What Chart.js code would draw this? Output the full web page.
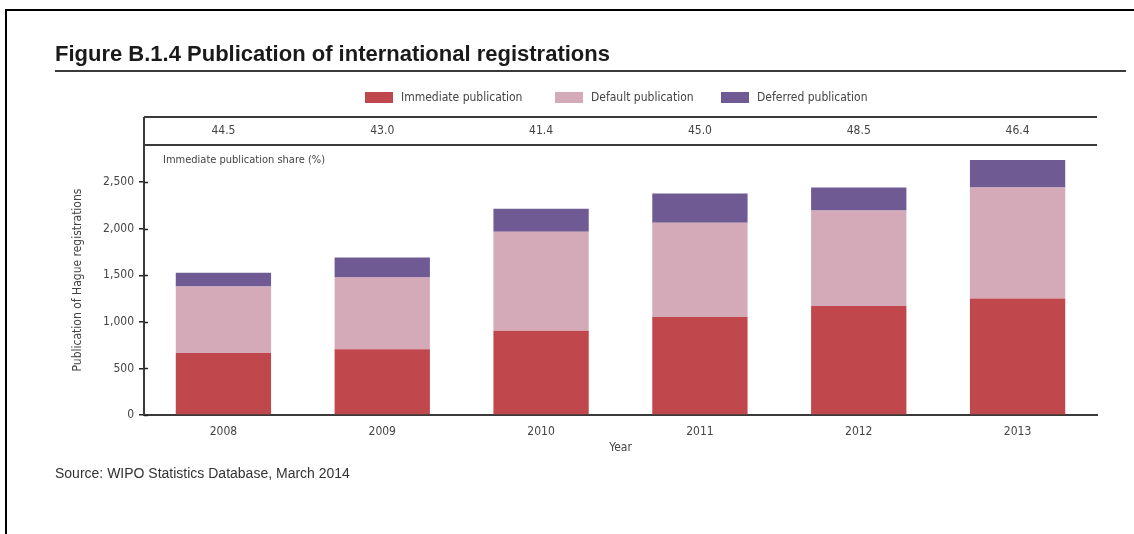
<!DOCTYPE html>
<html>
<head>
<meta charset="utf-8">
<script src="https://cdn.jsdelivr.net/npm/chart.js@4"></script>
<style>
  html, body { margin: 0; padding: 0; background: #fff; }
  #wrap { width: 1134px; height: 534px; position: relative; }
</style>
</head>
<body>
<div id="wrap"><canvas id="chart" width="1134" height="534"></canvas></div>
<script>
const years = ['2008', '2009', '2010', '2011', '2012', '2013'];
const immediate = [665, 706, 905, 1052, 1170, 1252];
const defaultPub = [714, 771, 1064, 1013, 1027, 1191];
const deferred = [149, 214, 246, 314, 246, 297];
const shares = ['44.5', '43.0', '41.4', '45.0', '48.5', '46.4'];
const yTicks = [0, 500, 1000, 1500, 2000, 2500];

const narrow = '"Liberation Sans Narrow", "DejaVu Sans Condensed", sans-serif';
const textCol = '#444';
const lineCol = '#3a3a3a';

const seriesInfo = [
    { label: 'Immediate publication', data: immediate, color: '#c0474b' },
    { label: 'Default publication', data: defaultPub, color: '#d4a9b8' },
    { label: 'Deferred publication', data: deferred, color: '#6f5a93' }
];

// frame, title, legend, share row, source
const extras = {
    id: 'extras',
    afterDraw(chart) {
        const ctx = chart.ctx;
        const area = chart.chartArea;
        const xs = chart.scales.x;
        const ys = chart.scales.y;
        ctx.save();

        // page frame
        ctx.strokeStyle = '#000';
        ctx.lineWidth = 2;
        ctx.beginPath();
        ctx.moveTo(6, 540);
        ctx.lineTo(6, 10);
        ctx.lineTo(1134, 10);
        ctx.stroke();

        // title
        ctx.fillStyle = '#1a1a1a';
        ctx.font = 'bold 22px "Liberation Sans", Arial, sans-serif';
        ctx.textBaseline = 'alphabetic';
        ctx.textAlign = 'left';
        ctx.fillText('Figure B.1.4 Publication of international registrations', 55, 61);
        ctx.strokeStyle = lineCol;
        ctx.lineWidth = 2;
        ctx.beginPath();
        ctx.moveTo(55, 71);
        ctx.lineTo(1126, 71);
        ctx.stroke();

        // legend
        ctx.font = '12px ' + narrow;
        ctx.textBaseline = 'middle';
        const legendX = [365, 555, 721];
        seriesInfo.forEach((s, i) => {
            ctx.fillStyle = s.color;
            ctx.fillRect(legendX[i], 92, 28, 11);
            ctx.fillStyle = textCol;
            ctx.fillText(s.label, legendX[i] + 36, 98);
        });

        // share row
        ctx.strokeStyle = lineCol;
        ctx.lineWidth = 2;
        ctx.beginPath();
        ctx.moveTo(area.left, 117);
        ctx.lineTo(area.right, 117);
        ctx.moveTo(area.left, area.top);
        ctx.lineTo(area.right, area.top);
        ctx.moveTo(area.left, 117);
        ctx.lineTo(area.left, area.top);
        ctx.stroke();
        ctx.fillStyle = textCol;
        ctx.textAlign = 'center';
        shares.forEach((v, i) => {
            ctx.fillText(v, xs.getPixelForValue(i), 131);
        });
        ctx.textAlign = 'left';
        ctx.font = '11px ' + narrow;
        ctx.fillText('Immediate publication share (%)', 163, 160);

        // inner half of the y tick marks
        ctx.strokeStyle = '#222';
        ctx.lineWidth = 1.5;
        ctx.beginPath();
        ys.ticks.forEach(t => {
            const py = Math.round(ys.getPixelForValue(t.value)) + 0.5;
            ctx.moveTo(area.left, py);
            ctx.lineTo(area.left + 4, py);
        });
        ctx.stroke();

        // source
        ctx.fillStyle = '#333';
        ctx.font = '14px "Liberation Sans", Arial, sans-serif';
        ctx.fillText('Source: WIPO Statistics Database, March 2014', 55, 474);
        ctx.restore();
    }
};

new Chart(document.getElementById('chart'), {
    type: 'bar',
    data: {
        labels: years,
        datasets: seriesInfo.map(s => ({
            label: s.label,
            data: s.data,
            backgroundColor: s.color,
            borderWidth: 0,
            barPercentage: 0.6,
            categoryPercentage: 1
        }))
    },
    options: {
        responsive: false,
        animation: false,
        layout: { padding: { left: 71, right: 37, top: 145, bottom: 79 } },
        plugins: {
            legend: { display: false },
            tooltip: { enabled: false }
        },
        scales: {
            x: {
                stacked: true,
                grid: { display: false, drawTicks: false },
                border: { color: lineCol, width: 2 },
                ticks: { color: textCol, font: { family: narrow, size: 12 }, padding: 10 },
                title: { display: true, text: 'Year', color: textCol, font: { family: narrow, size: 12 }, padding: 0 },
                afterFit(s) { s.height = 40; }
            },
            y: {
                stacked: true,
                min: 0,
                max: 2900,
                grid: { drawOnChartArea: false, drawTicks: true, tickLength: 5, color: '#222', lineWidth: 1.5 },
                border: { color: lineCol, width: 2 },
                afterBuildTicks(s) { s.ticks = yTicks.map(v => ({ value: v })); },
                ticks: {
                    autoSkip: false,
                    color: textCol,
                    padding: 5,
                    font: { family: narrow, size: 12 },
                    callback: v => v.toLocaleString('en-US')
                },
                title: { display: true, text: 'Publication of Hague registrations', color: textCol, font: { family: narrow, size: 12 }, padding: 0 },
                afterFit(s) { s.width = 73; }
            }
        }
    },
    plugins: [extras]
});
</script>
</body>
</html>
